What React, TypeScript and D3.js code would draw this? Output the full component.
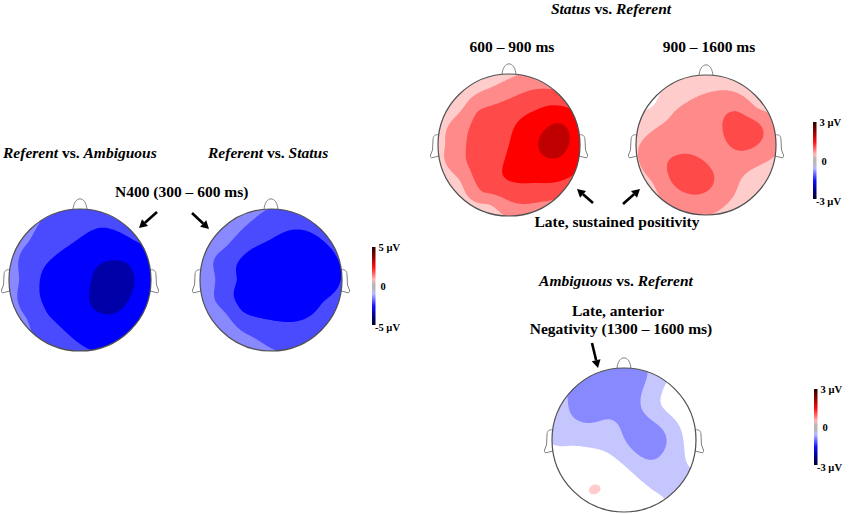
import React from "react";
import * as d3 from "d3";

// ---------------- DATA ----------------
const ELECTRODES = ["Fp1","Fpz","Fp2","F7","F3","Fz","F4","F8","FC5","FC1","FC2","FC6","T7","C3","Cz","C4","T8","CP5","CP1","CP2","CP6","P7","P3","Pz","P4","P8","PO3","PO4","O1","Oz","O2"];
// normalised scalp positions (x right, y towards nose)
const ELEC_X = [-0.28,0,0.28,-0.73,-0.42,0,0.42,0.73,-0.7,-0.22,0.22,0.7,-0.9,-0.45,0,0.45,0.9,-0.7,-0.22,0.22,0.7,-0.73,-0.42,0,0.42,0.73,-0.38,0.38,-0.28,0,0.28];
const ELEC_Y = [0.86,0.9,0.86,0.53,0.45,0.45,0.45,0.53,0.25,0.22,0.22,0.25,0,0,0,0,0,-0.25,-0.22,-0.22,-0.25,-0.53,-0.45,-0.45,-0.45,-0.53,-0.68,-0.68,-0.86,-0.9,-0.86];

// µV per electrode (same order as ELECTRODES)
const REF_VS_AMB_N400 = [-2.45,-2.65,-2.85,-2.25,-2.75,-3.2,-3.5,-3.1,-2.6,-3.3,-3.9,-3.9,-2.15,-3.2,-3.6,-4.6,-3.6,-2.7,-3.4,-4.2,-4.0,-2.3,-3.1,-3.7,-4.1,-3.5,-2.8,-3.4,-2.7,-3.0,-3.2];
const REF_VS_STAT_N400 = [-2.2,-2.45,-2.7,-1.9,-2.75,-3.2,-3.45,-3.05,-2.6,-3.4,-3.6,-3.5,-1.85,-3.05,-3.6,-3.65,-3.2,-2.6,-3.4,-3.5,-3.1,-1.8,-2.95,-3.2,-3.15,-2.8,-2.4,-2.85,-2.1,-2.35,-2.55];
const STAT_VS_REF_600_900 = [0.8,0.95,1.2,0.75,1.4,1.6,1.9,1.85,1.15,1.55,2.0,2.5,0.9,1.5,1.8,2.45,2.3,1.2,1.65,2.1,2.3,0.8,1.5,1.85,1.95,1.75,1.3,1.55,0.85,1.15,1.3];
const STAT_VS_REF_900_1600 = [0.7,0.75,0.8,0.5,0.95,1.1,1.4,0.9,0.9,1.1,1.33,1.5,0.95,1.2,1.15,1.45,1.15,1.2,1.45,1.15,1.0,0.95,1.5,1.5,1.0,0.65,1.3,0.95,1.1,1.05,0.9];
const AMB_VS_REF_1300_1600 = [-1.2,-1.2,-0.95,-0.95,-1.2,-1.1,-0.6,-0.2,-0.85,-0.8,-1.1,-0.5,-0.55,-0.6,-0.88,-1.15,-0.35,-0.2,-0.4,-0.9,-0.6,0.0,0.05,-0.3,-0.7,-0.55,0.52,-0.45,0.1,0.0,-0.2];

const LEVEL_FRACTIONS = [0.15, 0.3, 0.45, 0.6, 0.8];
const NEG_COLORS = ["#c6c6ff", "#8888ff", "#4a4aff", "#0000ff", "#0000a8"];
const POS_COLORS = ["#ffcccc", "#ff8a8a", "#ff4a4a", "#ff0000", "#c00000"];

// ---------------- LAYOUT ----------------
const HEADS = [
  { id: "h1", cx: 80, cy: 280, r: 71, values: REF_VS_AMB_N400, max: 5 },
  { id: "h2", cx: 271, cy: 280, r: 71, values: REF_VS_STAT_N400, max: 5 },
  { id: "h3", cx: 509, cy: 145, r: 71, values: STAT_VS_REF_600_900, max: 3 },
  { id: "h4", cx: 706, cy: 145, r: 70, values: STAT_VS_REF_900_1600, max: 3 },
  { id: "h5", cx: 624, cy: 440, r: 72, values: AMB_VS_REF_1300_1600, max: 3 },
];

const COLORBARS = [
  { x: 372, y0: 247, y1: 325, top: "5 µV", bottom: "-5 µV" },
  { x: 813, y0: 122, y1: 199, top: "3 µV", bottom: "-3 µV" },
  { x: 814, y0: 389, y1: 465, top: "3 µV", bottom: "-3 µV" },
];

const ARROWS = [
  [157, 212, 139, 228],
  [192, 213, 209, 229],
  [593, 203, 577, 189],
  [623, 204, 640, 189],
  [592, 343, 598, 368],
];

const FONT = "'Liberation Serif', 'Times New Roman', serif";

// ---------------- INTERPOLATION ----------------
function solve(A: number[][], b: number[]): number[] {
  const n = b.length;
  const M = A.map((row, i) => [...row, b[i]]);
  for (let c = 0; c < n; c++) {
    let p = c;
    for (let r = c + 1; r < n; r++) if (Math.abs(M[r][c]) > Math.abs(M[p][c])) p = r;
    [M[c], M[p]] = [M[p], M[c]];
    for (let r = c + 1; r < n; r++) {
      const f = M[r][c] / M[c][c];
      for (let k = c; k <= n; k++) M[r][k] -= f * M[c][k];
    }
  }
  const x = new Array(n).fill(0);
  for (let r = n - 1; r >= 0; r--) {
    let s = M[r][n];
    for (let k = r + 1; k < n; k++) s -= M[r][k] * x[k];
    x[r] = s / M[r][r];
  }
  return x;
}

const green = (d: number) => (d > 1e-9 ? d * d * (Math.log(d) - 1) : 0);

function buildField(values: number[]) {
  const n = ELEC_X.length;
  const A: number[][] = [];
  for (let i = 0; i < n; i++) {
    A.push([]);
    for (let j = 0; j < n; j++) A[i].push(green(Math.hypot(ELEC_X[i] - ELEC_X[j], ELEC_Y[i] - ELEC_Y[j])));
  }
  const w = solve(A, values);
  return (x: number, y: number) => {
    let s = 0;
    for (let j = 0; j < n; j++) s += w[j] * green(Math.hypot(x - ELEC_X[j], y - ELEC_Y[j]));
    return s;
  };
}

function Topo({ id, cx, cy, r, values, max }: any) {
  const N = 110, EXT = 1.08, step = (2 * EXT) / (N - 1);
  const f = buildField(values);
  const grid: number[] = new Array(N * N);
  for (let j = 0; j < N; j++)
    for (let i = 0; i < N; i++) grid[j * N + i] = f(-EXT + i * step, EXT - j * step);
  const proj = d3.geoTransform({
    point: function (this: any, x: number, y: number) {
      this.stream.point(cx + (-EXT + (x - 0.5) * step) * r, cy - (EXT - (y - 0.5) * step) * r);
    },
  });
  const path = d3.geoPath(proj);
  const ths = LEVEL_FRACTIONS.map((t) => t * max);
  const pos = d3.contours().size([N, N]).thresholds(ths)(grid);
  const neg = d3.contours().size([N, N]).thresholds(ths)(grid.map((v) => -v));

  const top = cy - r;
  const nose = `M${cx - 7},${top + 1.5} C${cx - 6.5},${top - 14} ${cx + 6.5},${top - 14} ${cx + 7},${top + 1.5}`;
  const ear = (s: number) => {
    const ex = cx + s * r;
    const p = (dx: number, dy: number) => `${ex + s * dx},${cy + dy}`;
    return `M${p(-1, -10)} C${p(3, -11)} ${p(5, -9)} ${p(5, -5)} L${p(5.5, 5)} L${p(7.5, 10)} Q${p(8, 13.5)} ${p(5, 12.5)} L${p(-1, 11)} Z`;
  };
  return (
    <g>
      <defs>
        <clipPath id={`clip-${id}`}>
          <circle cx={cx} cy={cy} r={r} />
        </clipPath>
      </defs>
      <path d={ear(-1)} fill="#fff" stroke="#808080" strokeWidth={1} />
      <path d={ear(1)} fill="#fff" stroke="#808080" strokeWidth={1} />
      <path d={nose} fill="#fff" stroke="#808080" strokeWidth={1} />
      <g clipPath={`url(#clip-${id})`}>
        <circle cx={cx} cy={cy} r={r} fill="#fff" />
        {pos.map((c, k) => (
          <path key={"p" + k} d={path(c as any) || ""} fill={POS_COLORS[k]} fillRule="evenodd" />
        ))}
        {neg.map((c, k) => (
          <path key={"n" + k} d={path(c as any) || ""} fill={NEG_COLORS[k]} fillRule="evenodd" />
        ))}
      </g>
      <circle cx={cx} cy={cy} r={r} fill="none" stroke="#505050" strokeWidth={1.2} />
    </g>
  );
}

function Colorbar({ x, y0, y1, top, bottom, gid }: any) {
  const ym = (y0 + y1) / 2;
  return (
    <g fontFamily={FONT} fontWeight="bold" fontSize={10.5} fill="#000">
      <rect x={x} y={y0} width={3.5} height={y1 - y0} fill={`url(#${gid})`} />
      <text x={x + 6.5} y={y0 + 4}>{top}</text>
      <text x={x + 8.5} y={ym + 4}>0</text>
      <text x={x + 3} y={y1 + 6}>{bottom}</text>
    </g>
  );
}

function Arrow({ a }: any) {
  const [x1, y1, x2, y2] = a;
  const ang = Math.atan2(y2 - y1, x2 - x1);
  const L = 8, W = 4.5;
  const bx = x2 - L * Math.cos(ang), by = y2 - L * Math.sin(ang);
  const px = -Math.sin(ang) * W, py = Math.cos(ang) * W;
  return (
    <g>
      <line x1={x1} y1={y1} x2={bx} y2={by} stroke="#000" strokeWidth={2.6} />
      <polygon points={`${x2},${y2} ${bx + px},${by + py} ${bx - px},${by - py}`} fill="#000" />
    </g>
  );
}

export default function App() {
  return (
    <svg width={851} height={514} style={{ position: "absolute", left: 0, top: 0, background: "#fff" }}>
      <defs>
        <linearGradient id="cbar" x1="0" y1="0" x2="0" y2="1">
          <stop offset="0" stopColor="#2a0000" />
          <stop offset="0.12" stopColor="#8b0000" />
          <stop offset="0.26" stopColor="#ff1010" />
          <stop offset="0.42" stopColor="#ffb8b8" />
          <stop offset="0.48" stopColor="#b8b8b8" />
          <stop offset="0.53" stopColor="#b8b8b8" />
          <stop offset="0.6" stopColor="#b8b8ff" />
          <stop offset="0.76" stopColor="#1010ff" />
          <stop offset="0.88" stopColor="#00008b" />
          <stop offset="1" stopColor="#00002a" />
        </linearGradient>
      </defs>
      {HEADS.map((h) => (
        <Topo key={h.id} {...h} />
      ))}
      {COLORBARS.map((c, i) => (
        <Colorbar key={i} {...c} gid="cbar" />
      ))}
      {ARROWS.map((a, i) => (
        <Arrow key={i} a={a} />
      ))}
      <g fontFamily={FONT} fontWeight="bold" fontSize={15.5} fill="#000">
        <text x={3} y={158}>
          <tspan fontStyle="italic">Referent</tspan> vs. <tspan fontStyle="italic">Ambiguous</tspan>
        </text>
        <text x={208} y={158}>
          <tspan fontStyle="italic">Referent</tspan> vs. <tspan fontStyle="italic">Status</tspan>
        </text>
        <text x={115} y={197}>N400 (300 – 600 ms)</text>
        <text x={611} y={14} textAnchor="middle">
          <tspan fontStyle="italic">Status</tspan> vs. <tspan fontStyle="italic">Referent</tspan>
        </text>
        <text x={512} y={52} textAnchor="middle">600 – 900 ms</text>
        <text x={709} y={52} textAnchor="middle">900 – 1600 ms</text>
        <text x={617} y={227} textAnchor="middle">Late, sustained positivity</text>
        <text x={616} y={286} textAnchor="middle">
          <tspan fontStyle="italic">Ambiguous</tspan> vs. <tspan fontStyle="italic">Referent</tspan>
        </text>
        <text x={618} y={316} textAnchor="middle">Late, anterior</text>
        <text x={621} y={334} textAnchor="middle">Negativity (1300 – 1600 ms)</text>
      </g>
    </svg>
  );
}
